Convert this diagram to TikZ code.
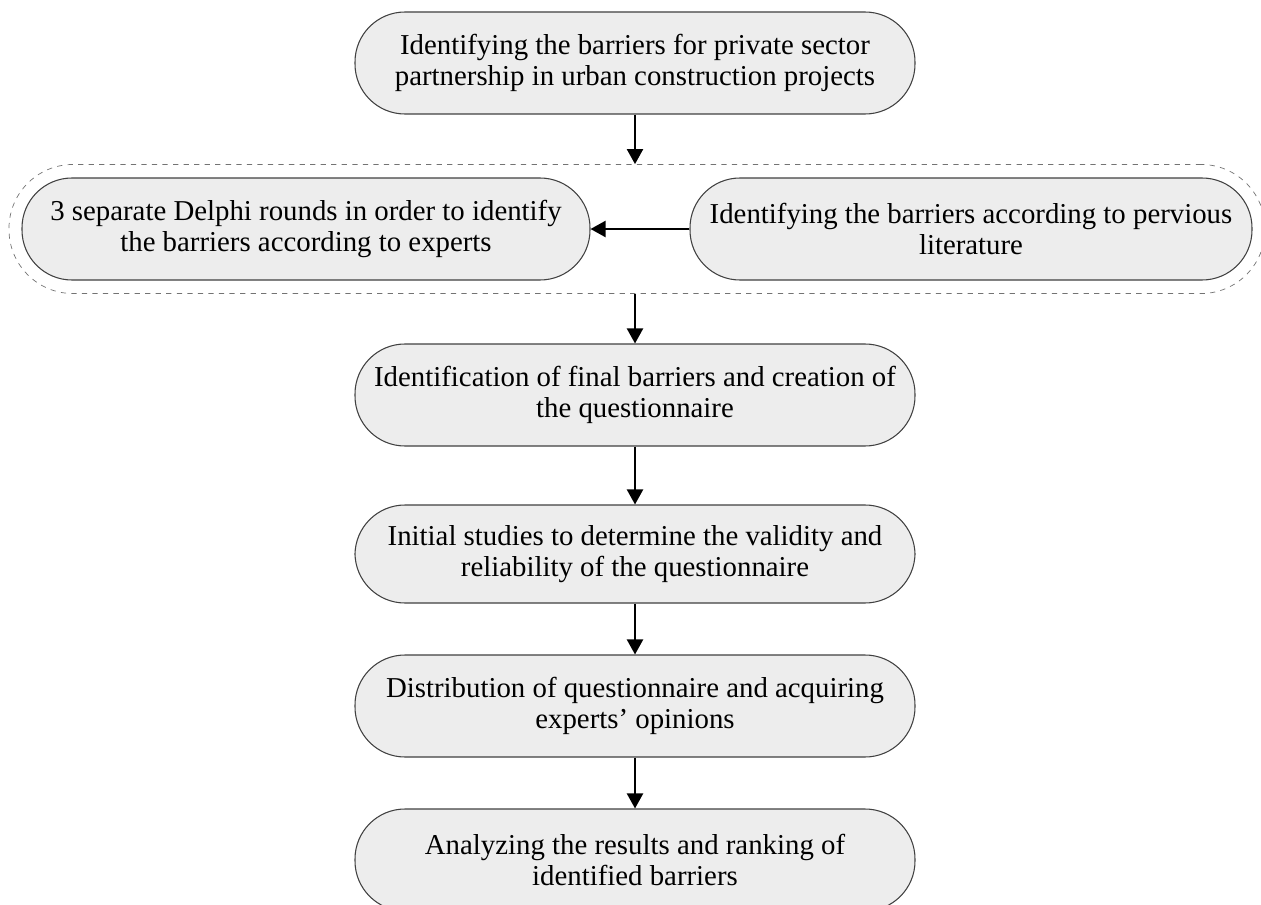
\documentclass[tikz,border=0pt]{standalone}
\usepackage{fontspec}
\setmainfont{Liberation Serif}
\usepackage{tikz}
\usetikzlibrary{arrows.meta}
\usetikzlibrary{fit}

\tikzset{
  stagebox/.style={draw=black!75, line width=0.6pt, fill=black!7,
    rounded corners=1cm, minimum height=2.04cm, align=center,
    font=\fontsize{16.4}{17.8}\selectfont, inner sep=1pt},
  flowarrow/.style={line width=1.2pt, -{Triangle[length=0.3cm,width=0.32cm]}}
}

\begin{document}
\begin{tikzpicture}
        \useasboundingbox (0, 0) rectangle (25.22, -18.1);

        \node[stagebox, minimum width=11.2cm] (barriers) at (12.7, -1.26)
            {Identifying the barriers for private sector\\partnership in urban construction projects};
        \node[stagebox, minimum width=11.36cm] (delphi) at (6.12, -4.58)
            {3 separate Delphi rounds in order to identify\\the barriers according to experts};
        \node[stagebox, minimum width=11.24cm] (literature) at (19.42, -4.58)
            {Identifying the barriers according to pervious\\literature};
        \node[draw=black!55, dashed, line width=0.4pt, rounded corners=1.28cm,
            fit=(delphi)(literature), inner xsep=0.25cm, inner ysep=0.26cm] (group) {};

        \node[stagebox, minimum width=11.2cm] (final) at (12.7, -7.9)
            {Identification of final barriers and creation of\\the questionnaire};
        \node[stagebox, minimum width=11.2cm, minimum height=1.96cm] (initial) at (12.7, -11.08)
            {Initial studies to determine the validity and\\reliability of the questionnaire};
        \node[stagebox, minimum width=11.2cm] (distribution) at (12.7, -14.12)
            {Distribution of questionnaire and acquiring\\experts’ opinions};
        \node[stagebox, minimum width=11.2cm] (analysis) at (12.7, -17.2)
            {Analyzing the results and ranking of\\identified barriers};

        \draw[flowarrow] (barriers.south) -- (barriers.south |- group.north);
        \draw[flowarrow] (literature.west) -- (delphi.east);
        \draw[flowarrow] (final.north |- group.south) -- (final.north);
        \draw[flowarrow] (final) -- (initial);
        \draw[flowarrow] (initial) -- (distribution);
        \draw[flowarrow] (distribution) -- (analysis);
    \end{tikzpicture}
\end{document}
